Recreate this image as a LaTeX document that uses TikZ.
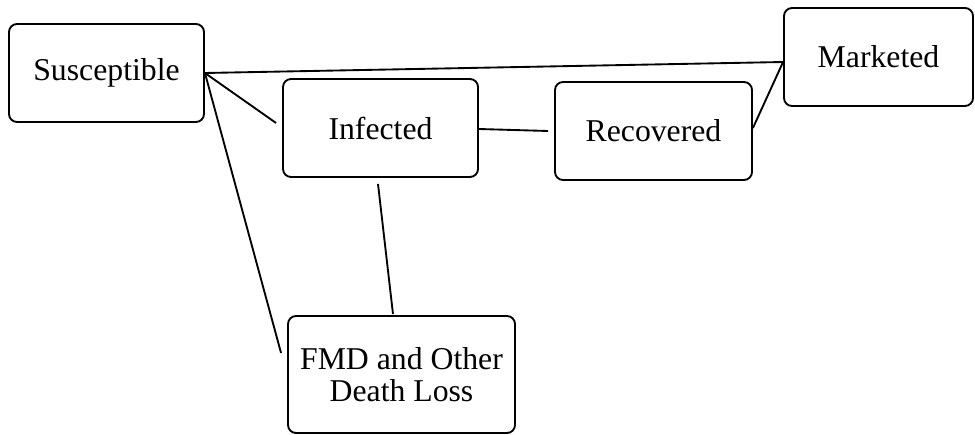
\documentclass[tikz,border=0pt]{standalone}
\usepackage{fontspec}
\setmainfont{Liberation Serif}
\usetikzlibrary{calc}
\begin{document}
\begin{tikzpicture}[x=0.75pt,y=-0.75pt,
  box/.style={draw=black,line width=1.4pt,rounded corners=6pt,fill=white,
    align=center,inner sep=0pt,
    font=\fontsize{23.8}{23.6}\selectfont},
  link/.style={draw=black,line width=1.4pt}]
\useasboundingbox (0,0) rectangle (975,435);
\node[box,minimum width=146.25pt,minimum height=73.5pt] (S) at (106.5,73) {Susceptible};
\node[box,minimum width=146.25pt,minimum height=73.5pt] (I) at (380.5,128) {Infected};
\node[box,minimum width=147.75pt,minimum height=73.5pt] (R) at (653.5,131) {Recovered};
\node[box,minimum width=141.75pt,minimum height=73.5pt] (M) at (878.5,57) {Marketed};
\node[box,minimum width=170.25pt,minimum height=87.75pt] (F) at (401.5,374.5) {FMD and Other\\Death Loss};
\coordinate (SI) at ($(I.west)+(-6,-5)$);
\coordinate (SF) at ($(F.west)+(-6,-21.5)$);
\coordinate (SM) at ($(M.west)+(0,5)$);
\coordinate (IR) at ($(R.west)+(-6,0)$);
\coordinate (RM) at ($(R.east)+(0,-3)$);
\coordinate (IF0) at ($(I.south)+(-2.5,6)$);
\coordinate (IF1) at ($(F.north)+(-8.5,-1)$);
\draw[link] (S.east) -- (SM);
\draw[link] (S.east) -- (SI);
\draw[link] (S.east) -- (SF);
\draw[link] ($(I.east)+(0,1)$) -- (IR);
\draw[link] (RM) -- (SM);
\draw[link] (IF0) -- (IF1);
\end{tikzpicture}
\end{document}
